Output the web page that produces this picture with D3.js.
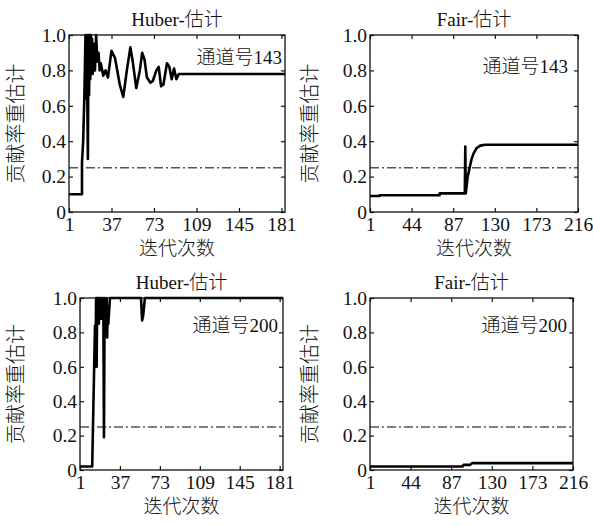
<!DOCTYPE html>
<html>
<head>
    <meta charset="UTF-8">
    <title>贡献率重估计</title>
    <script src="https://d3js.org/d3.v7.min.js"></script>
    <style>
        body {
            margin: 0;
            background-color: #ffffff;
        }
        text {
            fill: #111;
        }
        .tick text {
            font-family: "Liberation Serif", "Noto Sans CJK SC", serif;
            font-size: 19.5px;
        }
        .tick line {
            stroke: #111;
        }
        .title, .xlabel, .ylabel, .channel {
            font-family: "Liberation Serif", "Noto Sans CJK SC", serif;
            font-weight: 300;
        }
    </style>
</head>
<body>
<div id="chart"></div>
<script>
    // iteration / weight pairs
    var huber143 = [
        [1, 0.1], [12, 0.1], [12, 0.28], [13, 0.4], [14, 0.65], [15, 1.0], [15.5, 0.64],
        [16, 1.0], [17, 0.3], [17.5, 1.0], [18, 0.66], [18.5, 1.0], [19, 0.75],
        [19.5, 1.0], [20, 0.8], [20.5, 0.98], [21, 0.78], [22, 0.95], [23, 0.8],
        [24, 1.0], [25, 0.85], [26, 0.9], [27, 0.8], [28, 0.84], [30, 0.77],
        [32, 0.8], [34, 0.76], [37, 0.91], [40, 0.87], [44, 0.72], [47, 0.65],
        [50, 0.8], [53, 0.93], [55, 0.85], [58, 0.7], [61, 0.8], [63, 0.9],
        [65, 0.86], [67, 0.76], [70, 0.73], [72, 0.74], [75, 0.8], [77, 0.82],
        [79, 0.71], [81, 0.72], [84, 0.84], [86, 0.82], [88, 0.75], [90, 0.81],
        [92, 0.75], [94, 0.78], [96, 0.78], [184, 0.78]
    ];
    var fair143 = [
        [1, 0.09], [11, 0.09], [11, 0.095], [73, 0.095], [73, 0.105], [99, 0.105],
        [99.5, 0.37], [100, 0.105], [102, 0.2], [104, 0.25], [106, 0.3],
        [108, 0.33], [111, 0.36], [115, 0.375], [120, 0.38], [216, 0.38]
    ];
    var huber200 = [
        [1, 0.02], [12, 0.02], [14.5, 0.84], [15, 0.6], [15.5, 1.0], [16, 0.6],
        [16.5, 1.0], [17, 0.85], [17.5, 1.0], [18, 0.85], [18.5, 1.0], [19, 0.9],
        [19.5, 1.0], [20, 0.88], [20.5, 1.0], [21, 0.95], [22, 1.0], [22.6, 0.19],
        [23.2, 1.0], [24, 0.9], [25, 1.0], [25.5, 0.77], [26, 0.95], [26.5, 0.85],
        [27, 0.9], [28, 1.0], [56, 1.0], [57, 0.87], [58, 0.9], [59.5, 1.0], [184, 1.0]
    ];
    var fair200 = [
        [1, 0.02], [99, 0.02], [100, 0.03], [107, 0.03], [109, 0.04], [216, 0.04]
    ];

    var xTicksHuber = [1, 37, 73, 109, 145, 181],
        xTicksFair = [1, 44, 87, 130, 173, 216],
        yTicks = [0, 0.2, 0.4, 0.6, 0.8, 1.0],
        threshold = 0.25;

    var xLabel = "迭代次数",
        yLabel = "贡献率重估计";

    var panels = [
        {title: "Huber-估计", channel: "通道号143", data: huber143, ticks: xTicksHuber, xMax: 184,
         left: 69, top: 35, width: 216, height: 177, chX: 181.5, chY: 0.836, yLabX: 16},
        {title: "Fair-估计", channel: "通道号143", data: fair143, ticks: xTicksFair, xMax: 216,
         left: 370, top: 35, width: 208, height: 177, chX: 205.7, chY: 0.785, yLabX: 310},
        {title: "Huber-估计", channel: "通道号200", data: huber200, ticks: xTicksHuber, xMax: 184,
         left: 80, top: 298, width: 203, height: 172, chX: 179.5, chY: 0.8, yLabX: 16},
        {title: "Fair-估计", channel: "通道号200", data: fair200, ticks: xTicksFair, xMax: 216,
         left: 370, top: 298, width: 203, height: 172, chX: 209.7, chY: 0.8, yLabX: 310}
    ];

    var svg = d3.select("#chart").append("svg")
        .attr("width", 593)
        .attr("height", 526);

    panels.forEach(function (p) {
        var x = d3.scaleLinear().domain([1, p.xMax]).range([0, p.width]);
        var y = d3.scaleLinear().domain([0, 1]).range([p.height, 0]);

        var g = svg.append("g")
            .attr("transform", "translate(" + p.left + "," + p.top + ")");

        // axes, ticks pointing inwards like matlab
        g.append("g")
            .attr("transform", "translate(0," + p.height + ")")
            .call(d3.axisBottom(x).tickValues(p.ticks).tickSizeInner(-4).tickSizeOuter(0).tickPadding(5))
            .call(function (a) { a.select(".domain").remove(); });
        g.append("g")
            .call(d3.axisTop(x).tickValues(p.ticks).tickSizeInner(-4).tickSizeOuter(0).tickFormat(""))
            .call(function (a) { a.select(".domain").remove(); });
        g.append("g")
            .call(d3.axisLeft(y).tickValues(yTicks).tickSizeInner(-4).tickSizeOuter(0).tickPadding(3)
                .tickFormat(function (d) { return d === 0 ? "0" : d3.format(".1f")(d); }))
            .call(function (a) { a.select(".domain").remove(); });
        g.append("g")
            .attr("transform", "translate(" + p.width + ",0)")
            .call(d3.axisRight(y).tickValues(yTicks).tickSizeInner(-4).tickSizeOuter(0).tickFormat(""))
            .call(function (a) { a.select(".domain").remove(); });

        g.selectAll(".tick line").attr("stroke-width", 1.2);

        // threshold line
        g.append("line")
            .attr("x1", 0)
            .attr("x2", p.width)
            .attr("y1", y(threshold))
            .attr("y2", y(threshold))
            .attr("stroke", "#555")
            .attr("stroke-width", 1.4)
            .attr("stroke-dasharray", "9,3,2,3");

        // the weight curve
        var line = d3.line()
            .x(function (d) { return x(d[0]); })
            .y(function (d) { return y(d[1]); });

        g.append("path")
            .datum(p.data)
            .attr("d", line)
            .attr("fill", "none")
            .attr("stroke", "#000")
            .attr("stroke-width", 2.6)
            .attr("stroke-linejoin", "round");

        g.append("rect")
            .attr("width", p.width)
            .attr("height", p.height)
            .attr("fill", "none")
            .attr("stroke", "#111")
            .attr("stroke-width", 1.3);

        g.append("text")
            .attr("class", "title")
            .attr("x", p.width / 2)
            .attr("y", -9)
            .attr("text-anchor", "middle")
            .style("font-size", "19px")
            .text(p.title);

        g.append("text")
            .attr("class", "channel")
            .attr("x", x(p.chX))
            .attr("y", y(p.chY))
            .attr("text-anchor", "end")
            .style("font-size", "19px")
            .text(p.channel);

        g.append("text")
            .attr("class", "xlabel")
            .attr("x", p.width / 2)
            .attr("y", p.height + 43)
            .attr("text-anchor", "middle")
            .style("font-size", "19px")
            .text(xLabel);

        svg.append("text")
            .attr("class", "ylabel")
            .attr("transform", "translate(" + (p.yLabX + 7) + "," + (p.top + p.height / 2) + ") rotate(-90)")
            .attr("text-anchor", "middle")
            .style("font-size", "20px")
            .text(yLabel);
    });
</script>
</body>
</html>
